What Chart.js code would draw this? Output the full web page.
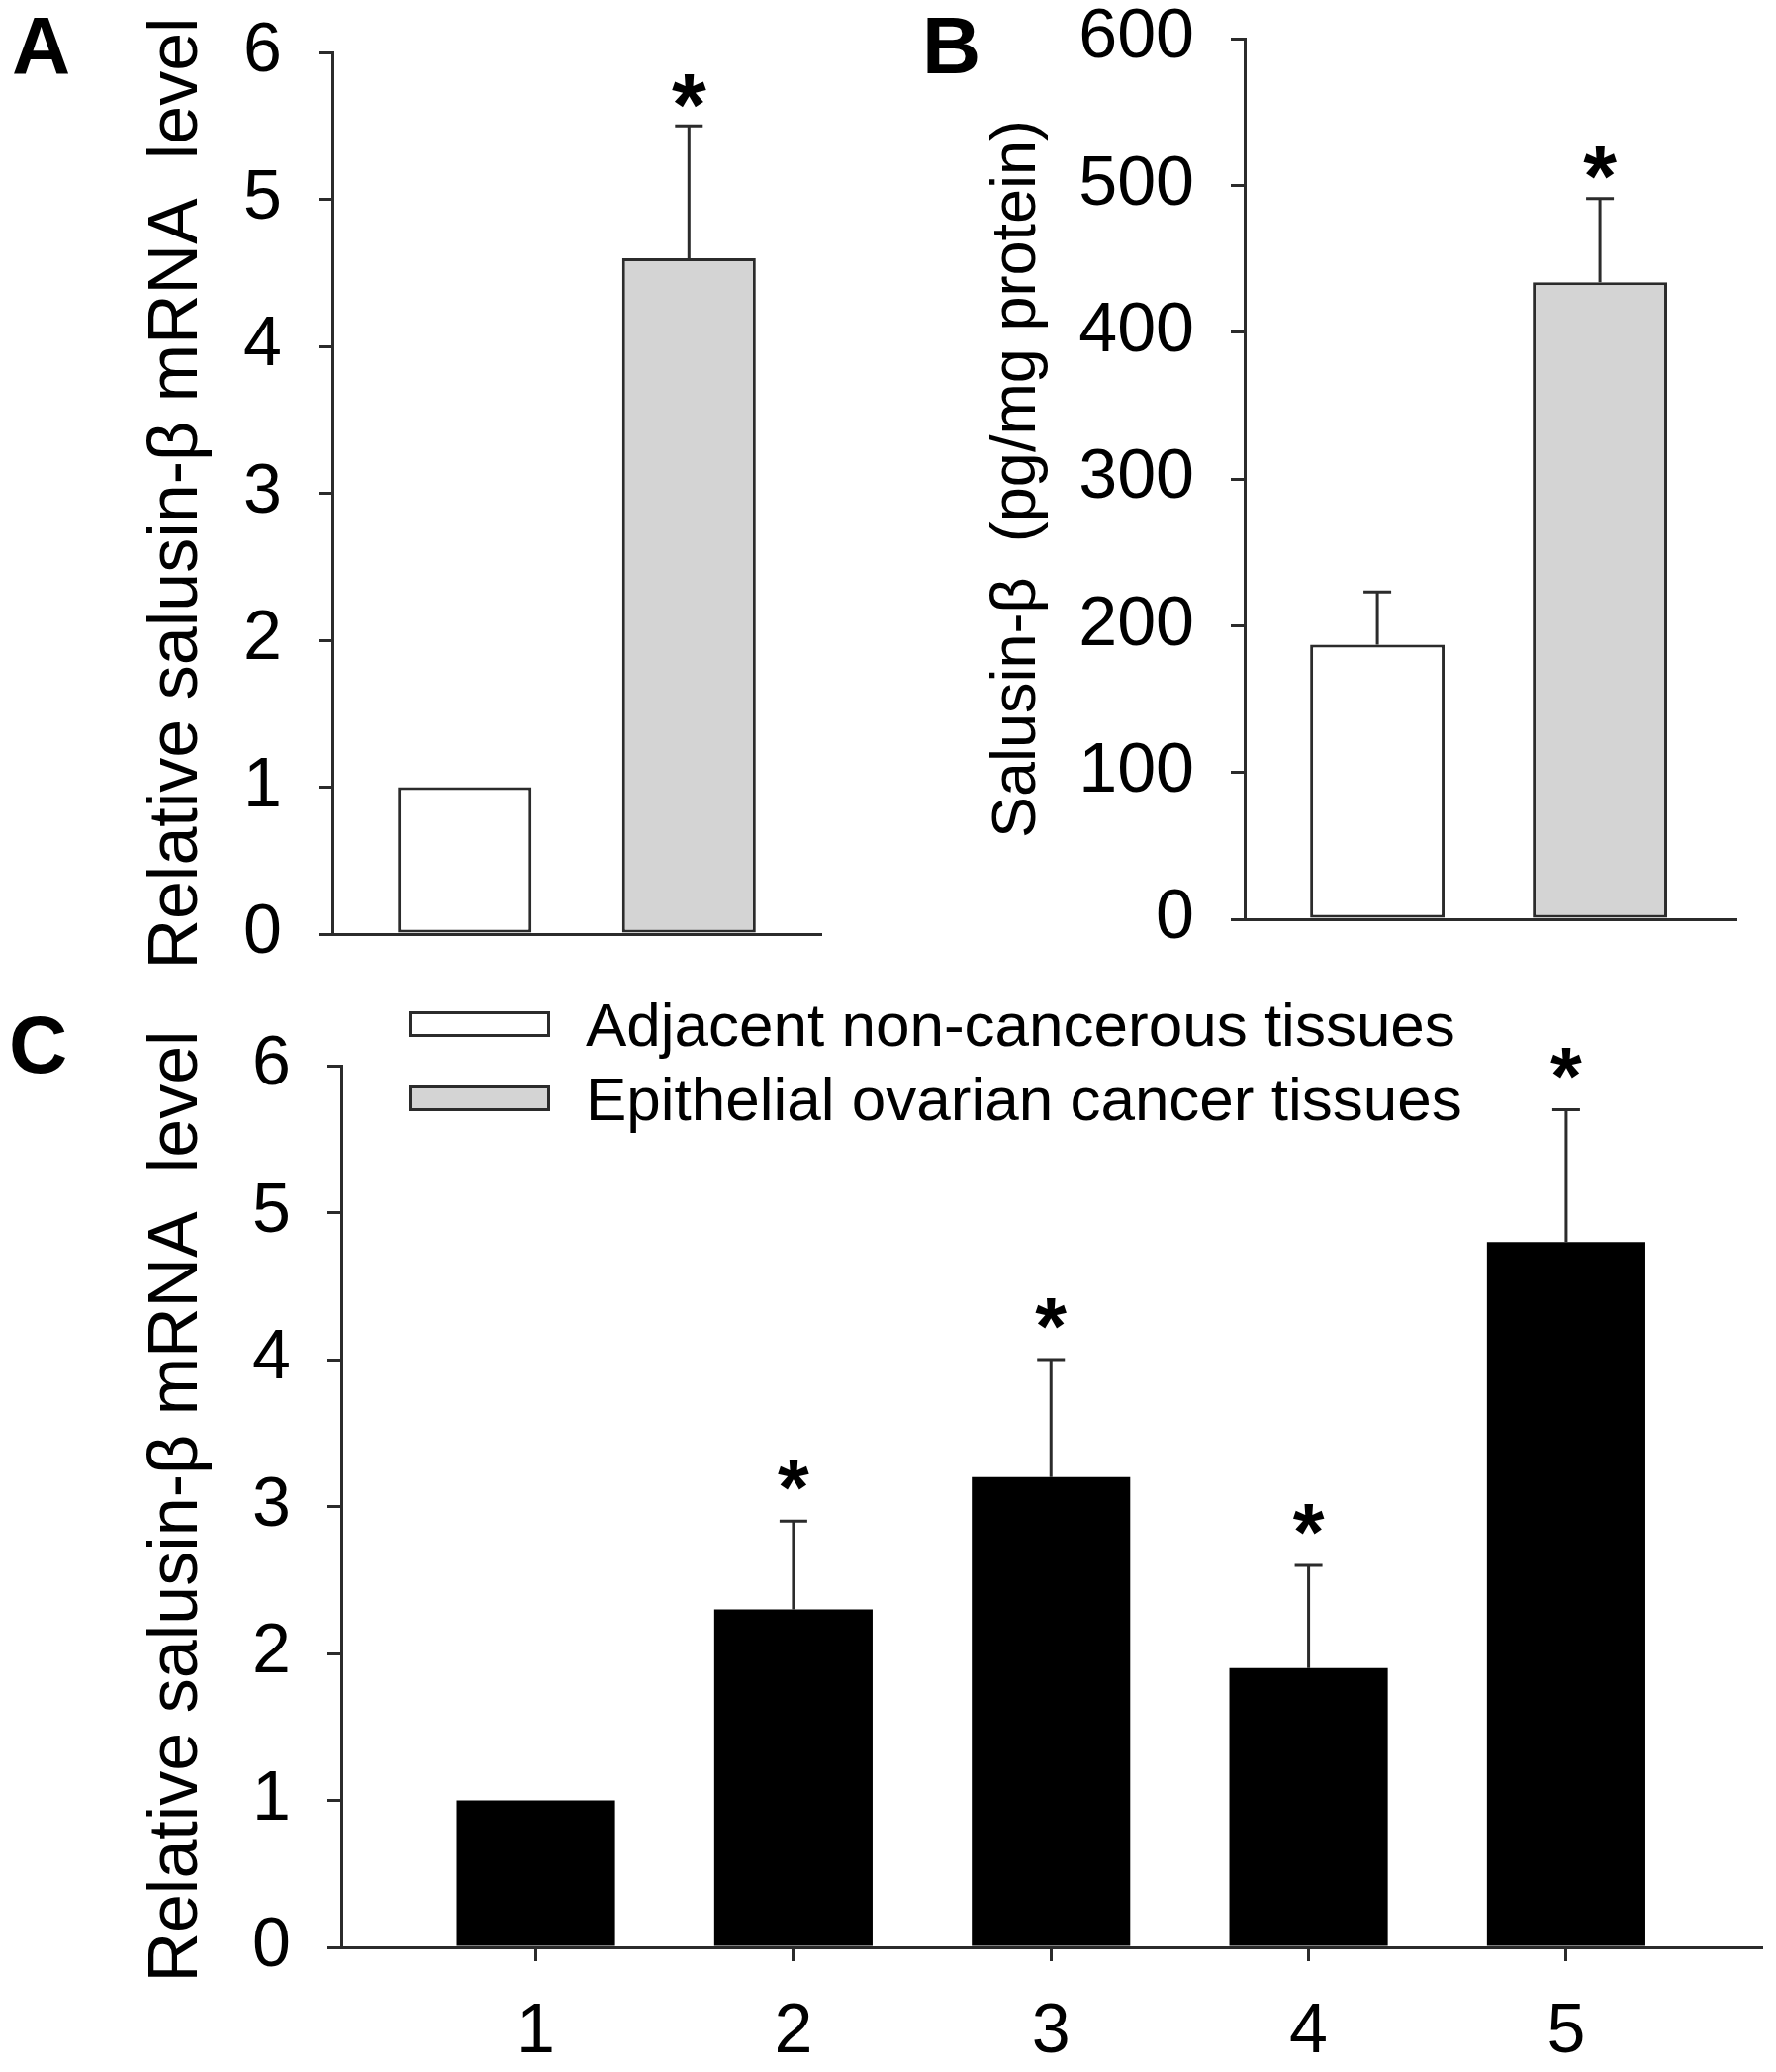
<!DOCTYPE html>
<html>
<head>
<meta charset="utf-8">
<script src="https://cdn.jsdelivr.net/npm/chart.js@4.4.0/dist/chart.umd.min.js"></script>
<style>
  html, body { margin: 0; padding: 0; background: #fff; }
  body { width: 1795px; height: 2094px; position: relative; overflow: hidden; }
  canvas { position: absolute; }
</style>
</head>
<body>
<canvas id="chartA" width="880" height="1000" style="left:0;top:0;width:880px;height:1000px"></canvas>
<canvas id="chartB" width="915" height="1000" style="left:880px;top:0;width:915px;height:1000px"></canvas>
<canvas id="chartC" width="1795" height="1094" style="left:0;top:1000px;width:1795px;height:1094px"></canvas>
<script>
// ---------------- data ----------------
const groupLabels = ['Adjacent non-cancerous tissues', 'Epithelial ovarian cancer tissues'];
const groupColors = ['#ffffff', '#d4d4d4'];

const panelAValues = [1.0, 4.6];
const panelAErrors = [0, 0.9];
const panelASignificant = [false, true];
const panelATicks = [0, 1, 2, 3, 4, 5, 6];
const panelATitle = 'Relative salusin-\u03b2 mRNA  level';

const panelBValues = [187, 434];
const panelBErrors = [36, 57];
const panelBSignificant = [false, true];
const panelBTicks = [0, 100, 200, 300, 400, 500, 600];
const panelBTitle = 'Salusin-\u03b2  (pg/mg protein)';

const panelCCategories = ['1', '2', '3', '4', '5'];
const panelCValues = [1.0, 2.3, 3.2, 1.9, 4.8];
const panelCErrors = [0, 0.6, 0.8, 0.7, 0.9];
const panelCSignificant = [false, true, true, true, true];
const panelCTicks = [0, 1, 2, 3, 4, 5, 6];
const panelCTitle = 'Relative salusin-\u03b2 mRNA  level';

// ---------------- styling ----------------
const FONT = "'Liberation Sans', Arial, Helvetica, sans-serif";
const INK = '#2b2b2b';
Chart.defaults.font.family = FONT;
Chart.defaults.color = '#000';

function fixedTicks(values) {
  return function (scale) { scale.ticks = values.map(v => ({ value: v })); };
}

function drawStar(ctx, x, cy, h) {
  ctx.save();
  ctx.font = 'bold 100px ' + FONT;
  const m = ctx.measureText('*');
  const asc = m.actualBoundingBoxAscent, desc = m.actualBoundingBoxDescent;
  const s = h / (asc + desc);
  ctx.font = 'bold ' + (100 * s).toFixed(2) + 'px ' + FONT;
  ctx.textAlign = 'center';
  ctx.textBaseline = 'alphabetic';
  ctx.fillStyle = '#000';
  ctx.fillText('*', x, cy + (asc - desc) * s / 2);
  ctx.restore();
}

const errorBarPlugin = {
  id: 'errorBars',
  afterDatasetsDraw(chart, args, opts) {
    const ctx = chart.ctx;
    const yScale = chart.scales.y;
    const meta = chart.getDatasetMeta(0);
    ctx.save();
    ctx.strokeStyle = INK;
    ctx.lineWidth = 3;
    meta.data.forEach((bar, i) => {
      const v = opts.values[i], e = opts.errors[i];
      let top = bar.y;
      if (e > 0) {
        const yTop = yScale.getPixelForValue(v + e);
        ctx.beginPath();
        ctx.moveTo(bar.x, bar.y);
        ctx.lineTo(bar.x, yTop);
        ctx.moveTo(bar.x - opts.cap / 2, yTop);
        ctx.lineTo(bar.x + opts.cap / 2, yTop);
        ctx.stroke();
        top = yTop;
      }
      if (opts.sig[i]) drawStar(ctx, bar.x, top - opts.starGap, opts.starSize);
    });
    ctx.restore();
  }
};

const decorPlugin = {
  id: 'panelDecor',
  afterDraw(chart, args, opts) {
    const ctx = chart.ctx;
    ctx.save();
    ctx.fillStyle = '#000';
    ctx.textAlign = 'left';
    ctx.textBaseline = 'alphabetic';
    ctx.font = 'bold 82px ' + FONT;
    ctx.fillText(opts.letter, opts.letterX, opts.letterY);
    if (opts.legend) {
      const L = opts.legend;
      groupLabels.forEach((label, i) => {
        const y = L.y + i * L.rowGap;
        ctx.fillStyle = groupColors[i];
        ctx.fillRect(L.x, y, L.w, L.h);
        ctx.strokeStyle = INK;
        ctx.lineWidth = 3;
        ctx.strokeRect(L.x + 1.5, y + 1.5, L.w - 3, L.h - 3);
        ctx.fillStyle = '#000';
        ctx.font = L.fontSize + 'px ' + FONT;
        ctx.fillText(label, L.textX, y + L.h / 2 + L.fontSize * 0.358);
      });
    }
    ctx.restore();
  }
};

function yAxis(min, max, ticks, title, titleSize, titlePad, width) {
  return {
    min: min, max: max,
    afterBuildTicks: fixedTicks(ticks),
    ticks: { font: { size: 70, lineHeight: 1 }, color: '#000', padding: 37 },
    grid: { display: true, drawOnChartArea: false, drawTicks: true, tickLength: 14, color: INK, lineWidth: 3 },
    border: { display: true, color: INK, width: 3 },
    title: { display: true, text: title, color: '#000', font: { size: titleSize, lineHeight: 1 }, padding: { top: titlePad, bottom: 0 } },
    afterFit: s => { s.width = width; s.paddingTop = 0; s.paddingBottom = 0; }
  };
}

function makePanel(id, cfg) {
  return new Chart(document.getElementById(id), {
    type: 'bar',
    data: {
      datasets: [{
        data: cfg.values.map((v, i) => ({ x: i, y: v })),
        backgroundColor: cfg.colors,
        borderColor: INK,
        borderWidth: cfg.borderWidth,
        borderSkipped: false,
        barPercentage: cfg.barPct,
        categoryPercentage: 1
      }]
    },
    options: {
      responsive: false,
      animation: false,
      devicePixelRatio: 1,
      layout: { padding: cfg.padding },
      plugins: {
        legend: { display: false },
        tooltip: { enabled: false },
        errorBars: { values: cfg.values, errors: cfg.errors, sig: cfg.sig, cap: 28, starGap: cfg.starGap, starSize: cfg.starSize },
        panelDecor: cfg.decor
      },
      scales: {
        x: cfg.x,
        y: cfg.y
      }
    },
    plugins: [errorBarPlugin, decorPlugin]
  });
}

// Panel A
makePanel('chartA', {
  values: panelAValues, errors: panelAErrors, sig: panelASignificant,
  colors: groupColors, borderWidth: 3, barPct: 0.596,
  padding: { left: 0, top: 53, right: 50, bottom: 0 },
  starGap: 36, starSize: 34,
  decor: { letter: 'A', letterX: 12, letterY: 74 },
  x: {
    type: 'linear', min: -0.59, max: 1.59, offset: false,
    afterBuildTicks: fixedTicks([0, 1]),
    ticks: { display: false },
    grid: { display: false, offset: false },
    border: { display: true, color: INK, width: 3 },
    afterFit: s => { s.height = 56; s.paddingLeft = 0; s.paddingRight = 0; }
  },
  y: yAxis(0, 6, panelATicks, panelATitle, 70, 145, 336)
});

// Panel B
makePanel('chartB', {
  values: panelBValues, errors: panelBErrors, sig: panelBSignificant,
  colors: groupColors, borderWidth: 3, barPct: 0.604,
  padding: { left: 0, top: 39, right: 40, bottom: 0 },
  starGap: 36, starSize: 33,
  decor: { letter: 'B', letterX: 52, letterY: 74 },
  x: {
    type: 'linear', min: -0.596, max: 1.613, offset: false,
    afterBuildTicks: fixedTicks([0, 1]),
    ticks: { display: false },
    grid: { display: false, offset: false },
    border: { display: true, color: INK, width: 3 },
    afterFit: s => { s.height = 71; s.paddingLeft = 0; s.paddingRight = 0; }
  },
  y: yAxis(0, 600, panelBTicks, panelBTitle, 63, 117, 378)
});

// Panel C
makePanel('chartC', {
  values: panelCValues, errors: panelCErrors, sig: panelCSignificant,
  colors: '#000000', borderWidth: 0, barPct: 0.615,
  padding: { left: 0, top: 77, right: 15, bottom: 0 },
  starGap: 47, starSize: 31,
  decor: {
    letter: 'C', letterX: 9, letterY: 84,
    legend: { x: 413, y: 22, w: 143, h: 26, rowGap: 75, textX: 592, fontSize: 62 }
  },
  x: {
    type: 'linear', min: -0.755, max: 4.757, offset: false,
    afterBuildTicks: fixedTicks([0, 1, 2, 3, 4]),
    ticks: {
      autoSkip: false, maxRotation: 0, padding: 38,
      font: { size: 70, lineHeight: 1 }, color: '#000',
      callback: v => panelCCategories[v]
    },
    grid: { display: true, drawOnChartArea: false, drawTicks: true, tickLength: 14, color: INK, lineWidth: 3, offset: false },
    border: { display: true, color: INK, width: 3 },
    afterFit: s => { s.height = 126; s.paddingLeft = 0; s.paddingRight = 0; }
  },
  y: yAxis(0, 6, panelCTicks, panelCTitle, 70, 145, 345)
});
</script>
</body>
</html>
